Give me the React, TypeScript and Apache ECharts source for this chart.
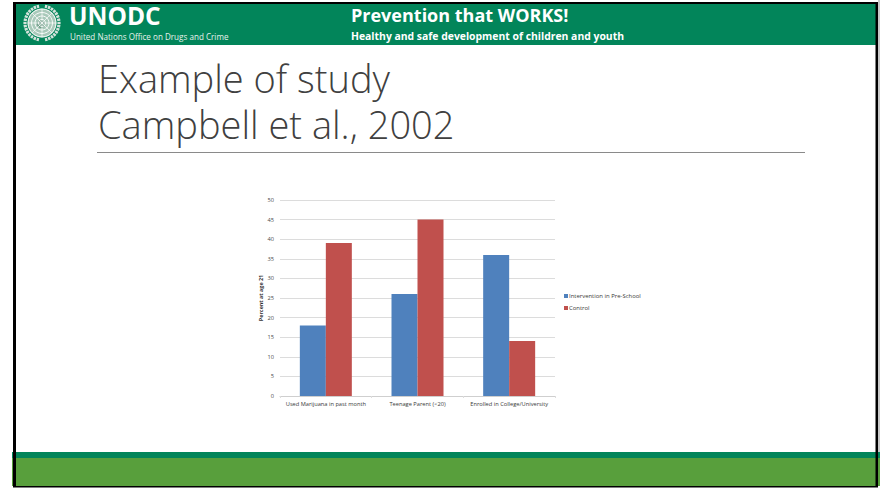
import React, { useEffect, useRef } from "react";
import * as echarts from "echarts";

const categories = ["Used Marijuana in past month", "Teenage Parent (<20)", "Enrolled in College/University"];
const interventionValues = [18, 26, 36];
const controlValues = [39, 45, 14];
const titleLines = ["Example of study", "Campbell et al., 2002"];

const DARK_GREEN = "#02855a";
const LIGHT_GREEN = "#589f3c";
const BLUE = "#4f81bd";
const RED = "#c0504d";
const TICK = "#4a4a4a";

// UN-style emblem: a pale globe with rings and meridians, framed by laurel leaves.
function emblem(cx: number, cy: number) {
  const line = "#ffffff";
  const disc = { type: "circle", shape: { cx, cy, r: 14.5 }, style: { fill: "#a9c9ba" } };
  const rings = [14, 10.5, 7, 3.5].map((r) => ({
    type: "circle",
    shape: { cx, cy, r },
    style: { stroke: line, fill: "none", lineWidth: 0.9 },
  }));
  const spokes = [0, 45, 90, 135].map((deg) => {
    const a = (deg * Math.PI) / 180;
    return {
      type: "line",
      shape: {
        x1: cx - 14 * Math.cos(a),
        y1: cy - 14 * Math.sin(a),
        x2: cx + 14 * Math.cos(a),
        y2: cy + 14 * Math.sin(a),
      },
      style: { stroke: line, lineWidth: 0.7 },
    };
  });
  const land = {
    type: "circle",
    shape: { cx: cx - 1, cy: cy + 1, r: 4 },
    style: { fill: "#6f9c87" },
  };
  const laurel = [
    { type: "arc", shape: { cx, cy, r: 17, startAngle: 1.75, endAngle: 4.55 }, style: { stroke: "#d5e3dc", fill: "none", lineWidth: 3.2, lineDash: [2.4, 0.8] } },
    { type: "arc", shape: { cx, cy, r: 17, startAngle: -1.4, endAngle: 1.4 }, style: { stroke: "#d5e3dc", fill: "none", lineWidth: 3.2, lineDash: [2.4, 0.8] } },
  ];
  return [disc, land, ...rings, ...spokes, ...laurel];
}

export default function App() {
  const ref = useRef<HTMLDivElement>(null);

  useEffect(() => {
    const chart = echarts.init(ref.current!, null, { renderer: "svg" });
    chart.setOption({
      animation: false,
      backgroundColor: "#ffffff",
      textStyle: { fontFamily: "Open Sans" },
      grid: { left: 280, right: 325, top: 200, bottom: 92 },
      legend: {
        orient: "vertical",
        left: 564,
        top: 293,
        itemWidth: 4,
        itemHeight: 4,
        itemGap: 6,
        padding: 0,
        icon: "rect",
        textStyle: { fontSize: 5.95, color: "#3a3a3a", padding: [0, 0, 0, -4] },
        data: ["Intervention in Pre-School", "Control"],
      },
      xAxis: {
        type: "category",
        data: categories,
        axisLine: { lineStyle: { color: "#cfcfcf", width: 1 } },
        axisTick: { show: true, length: 2, lineStyle: { color: "#dddddd" } },
        axisLabel: { fontSize: 5.7, color: "#3a3a3a", margin: 5, interval: 0 },
      },
      yAxis: {
        type: "value",
        min: 0,
        max: 50,
        interval: 5,
        name: "Percent at age 21",
        nameLocation: "middle",
        nameGap: 17,
        nameTextStyle: { fontSize: 5.4, fontWeight: "bold", color: "#333333" },
        axisLine: { show: false },
        axisTick: { show: false },
        axisLabel: { fontSize: 5.7, color: TICK, margin: 6 },
        splitLine: { lineStyle: { color: "#dcdcdc", width: 1 } },
      },
      series: [
        {
          name: "Intervention in Pre-School",
          type: "bar",
          data: interventionValues,
          barWidth: 26,
          barGap: 0,
          itemStyle: { color: BLUE },
        },
        {
          name: "Control",
          type: "bar",
          data: controlValues,
          barWidth: 26,
          itemStyle: { color: RED },
        },
      ],
      graphic: [
        // Header band, footer bands and the slide's black outline
        { type: "rect", z: -1, shape: { x: 13, y: 4, width: 863, height: 41 }, style: { fill: DARK_GREEN } },
        { type: "rect", z: -1, shape: { x: 878, y: 0, width: 2, height: 452 }, style: { fill: "#c8c8c8" } },
        { type: "rect", z: -1, shape: { x: 12, y: 452, width: 868, height: 6 }, style: { fill: DARK_GREEN } },
        { type: "rect", z: -1, shape: { x: 12, y: 458, width: 868, height: 28 }, style: { fill: LIGHT_GREEN } },
        { type: "rect", shape: { x: 13, y: 2, width: 865, height: 2 }, style: { fill: "#000000" } },
        { type: "rect", shape: { x: 13, y: 2, width: 3, height: 485 }, style: { fill: "#000000" } },
        { type: "rect", shape: { x: 875.5, y: 2, width: 2.5, height: 485 }, style: { fill: "#000000" } },
        { type: "rect", shape: { x: 13, y: 486, width: 865, height: 1.5 }, style: { fill: "#000000" } },
        ...emblem(42, 23),
        {
          type: "text",
          x: 69,
          y: 15,
          style: { text: "UNODC", fill: "#ffffff", font: "bold 24.5px 'Open Sans'", verticalAlign: "middle" },
        },
        {
          type: "text",
          x: 70,
          y: 36.5,
          style: { text: "United Nations Office on Drugs and Crime", fill: "#e6f2ec", font: "8.1px 'Open Sans'", verticalAlign: "middle" },
        },
        {
          type: "text",
          x: 351,
          y: 15,
          style: { text: "Prevention that WORKS!", fill: "#ffffff", font: "bold 18px 'Open Sans'", verticalAlign: "middle" },
        },
        {
          type: "text",
          x: 351,
          y: 36,
          style: { text: "Healthy and safe development of children and youth", fill: "#ffffff", font: "bold 10.4px 'Open Sans'", verticalAlign: "middle" },
        },
        // Two-line slide title, set as one block with a fixed line height
        {
          type: "text",
          x: 98,
          y: 101,
          style: {
            text: titleLines.join("\n"),
            fill: "#404040",
            font: "300 38px 'Open Sans'",
            lineHeight: 46,
            verticalAlign: "middle",
          },
        },
        { type: "rect", shape: { x: 97, y: 152, width: 708, height: 1 }, style: { fill: "#8a8a8a" } },
      ],
    });
    return () => chart.dispose();
  }, []);

  return <div ref={ref} style={{ position: "fixed", left: 0, top: 0, width: 880, height: 488 }} />;
}
